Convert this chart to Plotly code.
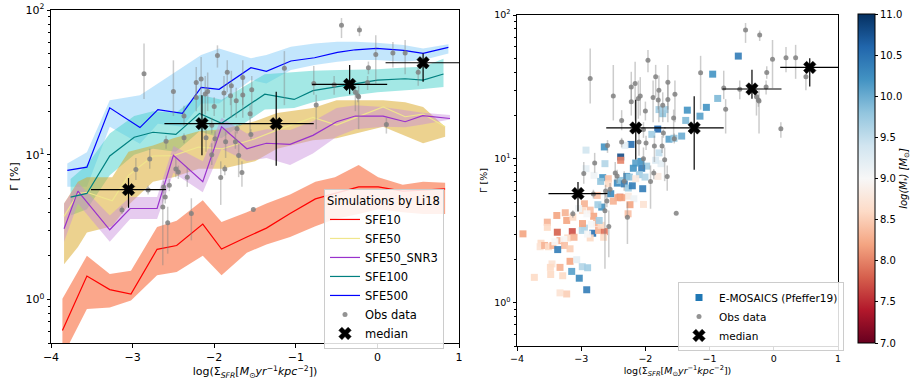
import plotly.graph_objects as go

# ---------------- simulation data (Li18) ----------------
sfe500_x = [-3.80,-3.56,-3.28,-2.91,-2.69,-2.39,-2.16,-1.94,-1.55,-1.36,-1.06,-0.77,-0.49,-0.27,-0.01,0.32,0.56,0.87]
sfe500_y = [7.8,8.2,21.1,15.4,20.5,19.3,29.2,28.3,39.9,37.7,44.4,46.8,50.9,53.1,54.3,52.6,50.1,55.2]
sfe500_hi = [8.7,10.4,23.8,25.8,31.1,40.5,48.9,54.3,46.4,48.9,55.7,58.8,60.4,60.4,59.4,57.3,54.3,58.0]
sfe500_lo = [6.0,6.0,15.6,11.9,16.4,15.6,22.6,22.6,32.8,31.1,38.5,41.6,43.9,45.1,45.1,43.9,45.1,50.1]

sfe100_x = [-3.76,-3.56,-3.28,-2.98,-2.75,-2.47,-2.18,-1.91,-1.38,-1.02,-0.79,-0.46,0.00,0.34,0.56,0.81]
sfe100_y = [5.1,5.4,9.8,13.2,14.3,13.8,19.3,16.5,26.2,24.1,27.7,29.8,32.8,33.5,32.8,36.1]
sfe100_hi = [6.8,8.5,14.0,18.5,20.0,19.5,26.0,24.0,36.0,37.0,38.0,38.5,39.0,40.0,40.5,46.0]
sfe100_lo = [3.8,4.2,7.2,10.0,11.0,10.5,14.5,13.0,20.5,21.0,23.0,25.1,27.0,28.0,28.5,29.4]

sfe50_x = [-3.84,-3.67,-3.56,-3.25,-3.05,-2.75,-2.50,-2.19,-1.90,-1.50,-1.23,-0.79,-0.50,0.07,0.34,0.56,0.83]
sfe50_y = [3.75,5.4,5.5,4.8,7.2,9.8,9.85,11.3,11.0,12.9,14.8,18.1,16.0,21.4,18.3,19.1,15.6]
sfe50_hi = [4.6,6.5,7.0,7.0,10.5,11.6,13.0,14.5,15.0,17.0,19.4,21.0,23.8,23.8,23.0,21.4,15.6]
sfe50_lo = [1.75,2.3,2.9,3.2,4.5,6.5,7.0,8.0,8.0,9.0,11.0,12.6,13.0,15.6,13.5,12.0,13.3]

snr3_x = [-3.84,-3.67,-3.28,-3.03,-2.70,-2.50,-2.14,-1.91,-1.60,-1.36,-1.07,-0.79,-0.50,-0.27,0.07,0.34,0.555,0.89]
snr3_y = [3.08,5.6,3.03,4.25,4.25,9.9,6.5,15.6,11.0,12.0,11.8,13.6,16.9,18.5,18.5,16.9,18.6,17.8]
snr3_hi = [4.6,6.4,3.8,5.1,5.1,11.5,9.0,18.0,14.0,15.0,14.8,17.0,21.0,22.0,21.4,20.3,19.5,18.8]
snr3_lo = [2.5,4.6,2.5,3.6,3.6,7.5,5.5,11.0,9.0,9.5,8.5,10.2,13.3,15.0,15.6,15.5,16.2,17.5]

sfe10_x = [-3.86,-3.56,-3.28,-3.02,-2.70,-2.46,-2.14,-1.91,-1.60,-1.36,-1.07,-0.76,-0.52,-0.23,0.01,0.31,0.56,0.83]
sfe10_y = [0.61,1.45,1.17,1.09,2.22,2.36,3.32,2.23,2.70,3.11,3.92,4.95,5.4,6.0,6.0,5.6,5.7,5.8]
sfe10_hi = [1.01,2.0,1.5,1.58,3.16,3.5,4.84,3.43,4.0,4.6,5.3,6.5,7.0,8.5,7.0,6.2,6.5,6.4]
sfe10_lo = [0.4,0.86,0.88,0.985,1.47,1.55,2.0,1.47,2.1,2.4,2.7,3.2,3.6,3.9,4.2,4.0,3.9,3.9]

# ---------------- observations ----------------
obs_x = [-2.86,-2.50,-2.37,-2.22,-2.16,-2.22,-2.11,-2.08,-2.00,-1.96,-1.88,-1.84,-1.79,-1.80,-1.73,-1.65,-1.65,
         -1.54,-1.56,-1.14,-0.78,-0.75,-0.53,-0.44,-0.22,-0.27,-0.24,-0.23,-0.11,-0.12,-0.02,0.11,0.19,0.34,0.50,
         -2.59,-2.37,-2.79,-2.96,-2.47,-2.44,-2.33,-2.10,-2.03,-2.03,-1.99,-1.86,-1.74,-1.72,-1.70,-1.66,-1.87,
         -1.92,-3.13,-2.81,-2.62,-2.55,-2.60,-2.63,-2.57,-2.28,-1.52,-1.55]
obs_y = [36.2,27.3,18.5,31.6,33.4,24.9,26.3,27.3,21.5,48.5,26.7,37.2,30.0,25.6,23.6,25.9,34.1,
         28.1,19.2,39.6,31.1,22.1,30.5,78.5,72.6,27.0,25.6,25.2,39.9,31.6,49.3,16.2,50.5,50.5,37.2,
         12.4,13.1,9.35,7.9,7.96,7.6,7.0,13.1,10.0,16.0,12.9,12.3,12.3,15.1,9.86,7.55,7.96,
         6.97,4.15,5.7,5.98,6.15,5.1,4.35,3.39,3.93,4.18,13.8]
obs_lo = [24.3,18.5,15.8,24.3,18.5,20.0,19.0,20.0,18.5,40.0,18.0,27.0,18.0,22.0,18.0,18.0,22.0,
          18.0,14.0,22.0,26.0,15.0,26.0,64.0,66.0,20.0,23.0,15.0,36.0,28.0,31.0,14.0,40.0,36.0,30.0,
          11.0,12.0,8.0,6.7,7.0,6.8,6.0,10.5,8.5,14.0,11.5,9.5,11.0,14.0,7.0,6.0,7.2,
          4.5,3.9,5.3,5.4,5.6,4.6,1.72,2.07,2.56,4.18,12.8]
obs_hi = [58.6,44.9,21.8,40.3,47.3,32.0,35.0,37.0,25.0,57.0,35.0,45.0,38.0,29.0,29.0,34.0,45.0,
          35.0,22.0,52.0,41.0,26.0,35.0,88.0,78.0,31.0,28.0,30.0,44.0,35.0,67.0,18.0,60.0,62.0,43.0,
          13.5,14.0,11.0,9.5,9.5,8.4,8.2,16.0,12.0,18.0,14.5,14.5,14.5,16.0,12.0,9.0,8.5,
          9.0,4.4,6.1,6.6,6.8,5.6,5.7,4.37,5.0,4.18,15.0]

# ---------------- medians ----------------
med_x = [-3.05,-2.15,-1.24,-0.34,0.56]
med_xerr = [0.46,0.46,0.46,0.46,0.46]
med_y = [5.74,16.4,16.4,30.6,43.2]
med_lo = [4.3,9.9,8.4,26.2,31.9]
med_hi = [6.9,25.8,27.2,41.6,50.0]

# ---------------- E-MOSAICS (Pfeffer19) ----------------
em_x = [-0.553,-0.952,-0.874,-1.05,-1.15,-1.347,-1.372,-1.435,-1.632,-1.555,-1.73,-1.788,-1.695,-1.808,-1.90,
        -1.788,-1.757,-1.84,-1.98,-2.069,-2.058,-2.151,-2.188,-2.094,-2.006,-2.224,-2.318,-2.385,-2.385,-2.64,
        -2.63,-2.925,-2.925,-2.80,-2.665,-2.697,-2.578,-2.578,-2.437,-2.396,-2.29,-2.329,-2.25,-2.266,-2.204,
        -2.151,-2.042,-1.804,-2.75,-2.54,-2.396,-2.266,-2.18,
        -2.03,-2.24,-2.369,-2.43,-2.50,-2.68,-2.74,-2.95,-2.98,-2.86,-2.806,-2.91,-3.04,-3.38,-3.528,-3.528,
        -3.248,-3.226,-3.13,-3.372,-3.139,-2.983,-2.821,-2.73,-2.64,-2.65,-2.76,-2.69,-2.84,-2.95,-2.98,
        -3.21,-3.112,-3.33,-3.27,-2.86,-2.90,-3.907,-3.626,-3.64,-3.57,-3.51,-3.44,-3.41,-3.26,-3.174,-3.366,
        -3.455,-3.48,-3.33,-3.174,-3.07,-3.148,-2.983,-2.90,-3.03,-2.914,-3.73,-3.475,-3.288,-3.33,-3.226,
        -2.27,-2.72]
em_y = [51.8,38.8,26.3,22.8,19.8,21.8,18.5,14.4,13.7,13.9,20.6,22.0,22.0,16.1,14.8,
        11.0,9.26,9.77,8.9,9.6,8.6,9.35,8.6,7.76,7.47,12.6,12.4,10.3,9.77,12.1,
        9.26,11.5,8.55,7.68,7.4,6.97,7.28,6.7,6.78,7.08,7.55,6.7,7.47,6.27,6.5,
        7.28,6.2,7.55,5.57,5.72,5.42,5.5,5.28,
        4.82,4.8,5.37,5.37,5.08,4.62,4.8,4.87,4.37,4.4,3.99,4.15,4.51,4.04,3.63,3.34,
        4.22,3.73,3.93,3.09,3.12,3.18,3.04,3.18,3.12,2.85,3.58,3.45,3.5,3.3,3.55,
        2.82,2.85,2.7,2.75,2.82,3.0,3.01,2.59,2.45,2.5,2.45,2.5,2.65,2.5,2.37,2.34,
        1.86,1.76,1.76,1.94,1.99,1.65,1.78,1.75,1.48,1.23,1.5,1.57,1.54,1.17,1.15,
        4.15,3.73]
em_m = [10.4,10.2,9.9,10.2,10.1,10.2,9.9,10.0,10.1,9.8,9.8,9.7,9.7,10.6,9.7,
        9.5,9.2,9.3,9.7,10.2,10.4,10.1,10.2,9.7,9.6,10.5,9.2,10.8,8.0,10.2,
        9.6,9.4,9.2,9.1,10.2,9.8,8.4,8.6,10.3,9.8,10.3,10.4,9.8,9.7,10.4,
        8.8,10.4,8.8,8.4,10.3,7.9,8.8,9.1,
        8.7,8.2,8.2,8.2,8.3,10.2,9.7,8.3,8.6,8.4,8.2,9.0,9.1,8.2,8.3,8.6,
        8.3,8.2,8.6,7.8,7.7,9.6,10.5,8.3,7.9,8.6,8.3,8.6,9.0,9.6,8.2,
        8.6,8.3,8.3,9.0,8.6,9.0,8.2,8.6,8.7,8.3,8.6,8.3,9.0,8.4,8.5,10.4,
        8.7,8.6,8.3,8.2,9.2,10.1,9.6,9.7,10.3,10.4,8.6,8.6,8.6,8.7,8.5,
        8.4,9.7]

# matplotlib RdBu
rdbu = ['#67001f','#b2182b','#d6604d','#f4a582','#fddbc7','#f7f7f7',
        '#d1e5f0','#92c5de','#4393c3','#2166ac','#053061']
cscale = [[i/(len(rdbu)-1), c] for i, c in enumerate(rdbu)]

FONT = "DejaVu Sans"
W, H = 914, 383
fig = go.Figure()

sims = [
    ("SFE500", sfe500_x, sfe500_y, sfe500_lo, sfe500_hi, "blue", "rgba(135,206,250,0.5)"),
    ("SFE100", sfe100_x, sfe100_y, sfe100_lo, sfe100_hi, "#008080", "rgba(72,209,204,0.5)"),
    ("SFE50", sfe50_x, sfe50_y, sfe50_lo, sfe50_hi, "#F0E68C", "rgba(218,165,32,0.5)"),
    ("SFE50_SNR3", snr3_x, snr3_y, snr3_lo, snr3_hi, "#9932CC", "rgba(200,140,220,0.45)"),
    ("SFE10", sfe10_x, sfe10_y, sfe10_lo, sfe10_hi, "red", "rgba(250,145,110,0.8)"),
]
for name, xs, ys, lo, hi, lc, fc in sims:
    fig.add_trace(go.Scatter(x=list(xs) + list(xs)[::-1], y=list(hi) + list(lo)[::-1],
                             fill="toself", fillcolor=fc, line=dict(width=0), mode="lines",
                             hoverinfo="skip", showlegend=False, xaxis="x", yaxis="y"))
line_map = {s[0]: s for s in sims}
for name in ["SFE10", "SFE50", "SFE50_SNR3", "SFE100", "SFE500"]:
    _, xs, ys, lo, hi, lc, fc = line_map[name]
    fig.add_trace(go.Scatter(x=xs, y=ys, mode="lines", name=name,
                             line=dict(color=lc, width=1.2), legend="legend",
                             xaxis="x", yaxis="y"))

def obs_trace(ax, ay, leg, show):
    return go.Scatter(x=obs_x, y=obs_y, mode="markers", name="Obs data",
                      marker=dict(color="rgba(128,128,128,0.85)", size=5),
                      error_y=dict(type="data", symmetric=False,
                                   array=[h - v for h, v in zip(obs_hi, obs_y)],
                                   arrayminus=[v - l for l, v in zip(obs_lo, obs_y)],
                                   color="rgba(128,128,128,0.4)", thickness=1.5, width=0),
                      xaxis=ax, yaxis=ay, legend=leg, showlegend=show)

def med_trace(ax, ay, leg):
    return go.Scatter(x=med_x, y=med_y, mode="markers", name="median",
                      marker=dict(color="black", size=11, symbol="x",
                                  line=dict(color="black", width=0.5)),
                      error_x=dict(type="data", array=med_xerr, color="black", thickness=1.2, width=0),
                      error_y=dict(type="data", symmetric=False,
                                   array=[h - v for h, v in zip(med_hi, med_y)],
                                   arrayminus=[v - l for l, v in zip(med_lo, med_y)],
                                   color="black", thickness=1.2, width=0),
                      xaxis=ax, yaxis=ay, legend=leg)

fig.add_trace(go.Scatter(x=em_x, y=em_y, mode="markers", name="E-MOSAICS (Pfeffer19)",
                         marker=dict(symbol="square", size=7, color=em_m, colorscale=cscale,
                                     cmin=7, cmax=11, opacity=0.9,
                                     colorbar=dict(x=858/W, xanchor="left", y=1-14/H, yanchor="top",
                                                   len=329, lenmode="pixels", thickness=17,
                                                   thicknessmode="pixels", xpad=0, ypad=0,
                                                   outlinewidth=1, outlinecolor="black",
                                                   tickvals=[7, 7.5, 8, 8.5, 9, 9.5, 10, 10.5, 11],
                                                   ticktext=["7.0", "7.5", "8.0", "8.5", "9.0", "9.5", "10.0", "10.5", "11.0"],
                                                   ticks="outside", ticklen=3, tickcolor="black",
                                                   tickfont=dict(size=10, family=FONT, color="black"),
                                                   title=dict(text="<i>log(M<sub>*</sub>) [M<sub>⊙</sub>]</i>",
                                                              side="right",
                                                              font=dict(size=10, family=FONT, color="black")))),
                         xaxis="x2", yaxis="y2", showlegend=False))
fig.add_trace(go.Scatter(x=[None], y=[None], mode="markers", name="E-MOSAICS (Pfeffer19)",
                         marker=dict(symbol="square", size=7, color="#1f77b4"),
                         xaxis="x2", yaxis="y2", legend="legend2"))

fig.add_trace(obs_trace("x", "y", "legend", True))
fig.add_trace(med_trace("x", "y", "legend"))
fig.add_trace(obs_trace("x2", "y2", "legend2", True))
fig.add_trace(med_trace("x2", "y2", "legend2"))

xtitle = "log(Σ<sub><i>SFR</i></sub>[<i>M</i><sub>⊙</sub><i>yr</i><sup>−1</sup><i>kpc</i><sup>−2</sup>])"
minor_vals = [0.5, 0.6, 0.7, 0.8, 0.9, 2, 3, 4, 5, 6, 7, 8, 9, 20, 30, 40, 50, 60, 70, 80, 90]

def xax(dom, fs):
    return dict(domain=dom, range=[-4, 1], showline=True, mirror=True, linecolor="black", linewidth=1,
                ticks="outside", ticklen=3.5, tickcolor="black", showgrid=False, zeroline=False,
                tickvals=[-4, -3, -2, -1, 0, 1], ticktext=["−4", "−3", "−2", "−1", "0", "1"],
                tickfont=dict(size=fs, family=FONT, color="black"),
                title=dict(text=xtitle, font=dict(size=fs, family=FONT, color="black"), standoff=4))

def yax(dom, fs, anchor):
    return dict(domain=dom, type="log", range=[-0.30103, 2], anchor=anchor,
                showline=True, mirror=True, linecolor="black", linewidth=1,
                ticks="outside", ticklen=3.5, tickcolor="black", showgrid=False, zeroline=False,
                tickvals=[1, 10, 100], ticktext=["10<sup>0</sup>", "10<sup>1</sup>", "10<sup>2</sup>"],
                minor=dict(tickvals=minor_vals, ticks="outside", ticklen=2, tickcolor="black", showgrid=False),
                tickfont=dict(size=fs, family=FONT, color="black"),
                title=dict(text="Γ [%]", font=dict(size=fs, family=FONT, color="black"), standoff=4))

fig.update_layout(
    width=W, height=H, margin=dict(l=0, r=0, t=0, b=0, autoexpand=False),
    paper_bgcolor="white", plot_bgcolor="white",
    font=dict(family=FONT, color="black"),
    xaxis=dict(**xax([51/W, 459/W], 11), anchor="y"),
    yaxis=yax([1-343/H, 1-10/H], 11, "x"),
    xaxis2=dict(**xax([517/W, 838/W], 9.5), anchor="y2"),
    yaxis2=yax([1-346/H, 1-15/H], 9.5, "x2"),
    legend=dict(x=324/W, y=1-189/H, xanchor="left", yanchor="top",
                title=dict(text="Simulations by Li18", font=dict(size=11.5, family=FONT)),
                font=dict(size=11.5, family=FONT), bgcolor="rgba(255,255,255,0.85)",
                bordercolor="#cccccc", borderwidth=1, traceorder="normal", tracegroupgap=0,
                itemwidth=30),
    legend2=dict(x=678/W, y=1-282/H, xanchor="left", yanchor="top",
                 font=dict(size=10.5, family=FONT), bgcolor="rgba(255,255,255,0.85)",
                 bordercolor="#cccccc", borderwidth=1, traceorder="normal", itemwidth=30),
    showlegend=True,
)

fig.write_html("out.html", config={"displayModeBar": False},
               post_script="document.body.style.margin='0px';document.body.style.overflow='hidden';")
